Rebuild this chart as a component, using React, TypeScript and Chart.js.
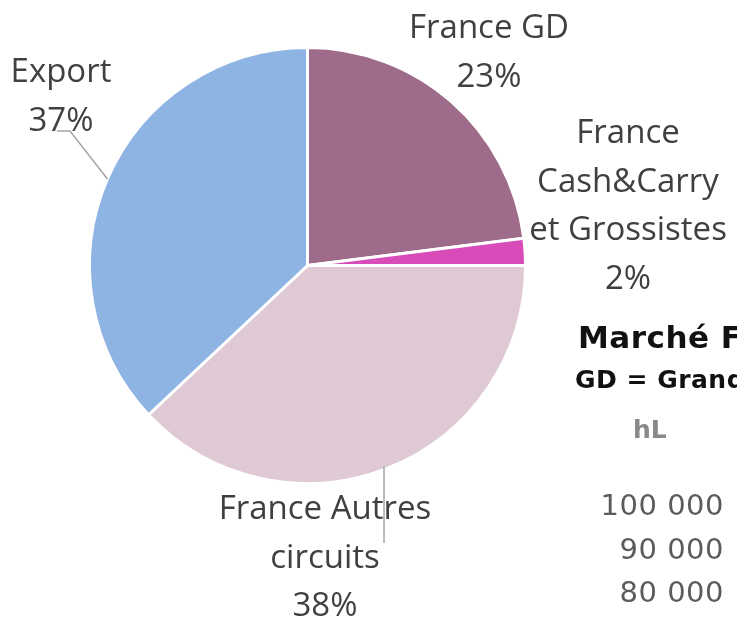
import React, { useEffect, useRef } from "react";
import { Chart, registerables } from "chart.js";

Chart.register(...registerables);

const categories = ["France GD", "France Cash&Carry et Grossistes", "France Autres circuits", "Export"];
const shares = [23, 2, 38, 37];
const sliceColors = ["#9E6C8A", "#D84CBA", "#DEC9D4", "#8EB4E3"];

// label text split into lines, and their anchor (center x, first baseline y)
const labelLines = [
  ["France GD"],
  ["France", "Cash&Carry", "et Grossistes"],
  ["France Autres", "circuits"],
  ["Export"],
];
const labelAnchors = [
  { x: 489, y: 38 },
  { x: 628, y: 143 },
  { x: 325, y: 519 },
  { x: 61, y: 82 },
];

const sideTitle = "Marché Français";
const sideSubtitle = "GD = Grande Distribution";
const sideUnit = "hL";
const sideTicks = ["100 000", "90 000", "80 000"];

const FONT = "'Open Sans', Lato, sans-serif";
const SIDE_FONT = "'DejaVu Sans', sans-serif";
const LINE = 48.5;

const labelPlugin = {
  id: "pieLabels",
  afterDraw(chart: any) {
    const ctx = chart.ctx as any;
    const meta = chart.getDatasetMeta(0);
    const total = shares.reduce((a, b) => a + b, 0);
    ctx.save();

    // leader lines
    ctx.strokeStyle = "#A6A6A6";
    ctx.lineWidth = 1.5;
    const exportArc = meta.data[3] as any;
    {
      const mid = (exportArc.startAngle + exportArc.endAngle) / 2;
      const px = exportArc.x + Math.cos(mid) * exportArc.outerRadius;
      const py = exportArc.y + Math.sin(mid) * exportArc.outerRadius;
      ctx.beginPath();
      ctx.moveTo(px, py);
      ctx.lineTo(70, 131);
      ctx.lineTo(57, 131);
      ctx.stroke();
    }
    const autresArc = meta.data[2] as any;
    {
      const mid = (autresArc.startAngle + autresArc.endAngle) / 2;
      const px = autresArc.x + Math.cos(mid) * (autresArc.outerRadius - 2) - 3;
      const py = autresArc.y + Math.sin(mid) * (autresArc.outerRadius - 2);
      ctx.beginPath();
      ctx.moveTo(px, py);
      ctx.lineTo(px, 543);
      ctx.stroke();
    }

    // labels
    ctx.fillStyle = "#404040";
    ctx.font = `33px ${FONT}`;
    ctx.textAlign = "center";
    ctx.textBaseline = "alphabetic";
    labelLines.forEach((lines, i) => {
      const a = labelAnchors[i];
      const all = [...lines, Math.round((shares[i] / total) * 100) + "%"];
      all.forEach((t, j) => ctx.fillText(t, a.x, a.y + j * LINE));
    });

    // cropped neighbouring chart text
    ctx.textAlign = "left";
    ctx.fillStyle = "#111111";
    ctx.letterSpacing = "0.5px";
    ctx.font = `bold 31px ${SIDE_FONT}`;
    ctx.fillText(sideTitle, 578, 348);
    ctx.letterSpacing = "0.5px";
    ctx.font = `bold 25px ${SIDE_FONT}`;
    ctx.fillText(sideSubtitle, 575, 388);
    ctx.letterSpacing = "0px";
    ctx.fillStyle = "#888888";
    ctx.font = `bold 25px ${SIDE_FONT}`;
    ctx.fillText(sideUnit, 633, 438);
    ctx.fillStyle = "#5E5A58";
    ctx.letterSpacing = "0.5px";
    ctx.font = `29px ${SIDE_FONT}`;
    ctx.textAlign = "right";
    sideTicks.forEach((t, j) => ctx.fillText(t, 724, 515 + j * 43.5));
    ctx.restore();
  },
};

export default function App() {
  const ref = useRef<HTMLCanvasElement | null>(null);
  useEffect(() => {
    if (!ref.current) return;
    const chart = new Chart(ref.current, {
      type: "pie",
      data: {
        labels: categories,
        datasets: [
          {
            data: shares,
            backgroundColor: sliceColors,
            borderColor: "#FFFFFF",
            borderWidth: 3,
          },
        ],
      },
      options: {
        responsive: false,
        animation: false,
        layout: { padding: { left: 88, right: 210, top: 45, bottom: 132 } },
        plugins: {
          legend: { display: false },
          tooltip: { enabled: false },
        },
      },
      plugins: [labelPlugin],
    });
    return () => chart.destroy();
  }, []);
  return (
    <div style={{ position: "fixed", left: 0, top: 0, width: 737, height: 618, background: "#fff" }}>
      <canvas ref={ref} width={737} height={618} />
    </div>
  );
}
